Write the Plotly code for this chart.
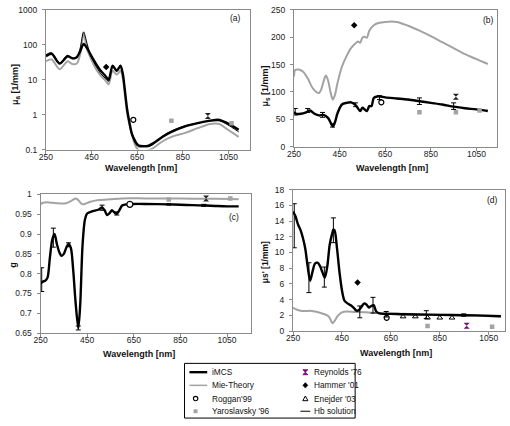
import plotly.graph_objects as go

W, H = 510, 426

# ---------------- data ----------------
# Panel (a): absorption coefficient mu_a [1/mm]
wl_a = [250, 275, 310, 345, 365, 385, 400, 415, 430, 445, 470, 490, 510, 525, 542, 560, 577, 587, 596, 606,
        616, 627, 642, 656, 680, 700, 720, 760, 800, 860, 915, 970, 1010, 1045, 1095]
mua_imcs = [47, 55, 29, 47, 41, 44, 65, 105, 81, 53, 28, 18, 13, 10, 25, 18, 25, 14.7, 5, 1.4,
            0.6, 0.28, 0.17, 0.13, 0.125, 0.13, 0.15, 0.23, 0.32, 0.46, 0.57, 0.67, 0.71, 0.57, 0.37]
mua_mie = [34, 38, 20, 34, 28, 29, 53, 210, 75, 43, 20, 13, 9.6, 7.4, 18, 14, 18, 11, 3.7, 1.1,
           0.5, 0.26, 0.13, 0.095, 0.09, 0.095, 0.11, 0.17, 0.23, 0.3, 0.41, 0.54, 0.54, 0.38, 0.23]
mua_hb = [52, 60, 30, 50, 40, 42, 80, 235, 110, 50, 24, 15, 11, 9, 26, 17, 26, 14, 4.5, 1.3,
          0.55, 0.26, 0.15, 0.12, 0.12, 0.12, 0.14, 0.24, 0.34, 0.48, 0.57, 0.66, 0.66, 0.52, 0.32]

# Panel (b): scattering coefficient mu_s [1/mm]
wl_b = [250, 260, 280, 300, 320, 340, 360, 380, 400, 420, 430, 440, 460, 480, 500, 520, 540, 550, 560, 570,
        580, 590, 600, 620, 650, 700, 750, 800, 850, 900, 950, 1000, 1050, 1100]
mus_imcs = [63, 60, 60, 62, 66, 60, 57, 58, 52, 37, 45, 60, 77, 80, 81, 76, 65, 71, 68, 65,
            74, 74, 89, 92, 90, 88, 86, 83, 80, 77, 73, 70, 68, 65]
wl_b_mie = [250, 255, 270, 290, 310, 330, 350, 360, 370, 380, 390, 400, 410, 420, 430, 440, 460, 480, 500, 520,
            530, 540, 550, 560, 570, 580, 600, 620, 650, 700, 750, 800, 850, 900, 950, 1000, 1050, 1100]
mus_mie = [128, 140, 141, 137, 125, 108, 99, 98, 105, 120, 130, 120, 100, 86, 95, 115, 146, 165, 180, 189,
           192, 190, 199, 201, 199, 212, 222, 226, 228, 228, 221, 212, 202, 191, 180, 169, 160, 151]

# Panel (c): anisotropy g
wl_c = [250, 260, 270, 280, 290, 300, 310, 320, 330, 340, 350, 360, 370, 380, 390, 400, 412, 420, 430, 440,
        450, 470, 500, 514, 525, 535, 545, 556, 566, 577, 590, 600, 620, 650, 700, 800, 850, 900, 960, 1000,
        1050, 1100]
g_imcs = [0.775, 0.78, 0.782, 0.79, 0.84, 0.885, 0.9, 0.875, 0.855, 0.845, 0.85, 0.865, 0.875, 0.865, 0.81, 0.73,
          0.662, 0.72, 0.87, 0.935, 0.952, 0.957, 0.962, 0.967, 0.96, 0.948, 0.952, 0.96, 0.955, 0.951, 0.962,
          0.972, 0.975, 0.976, 0.976, 0.975, 0.974, 0.973, 0.972, 0.971, 0.97, 0.97]
wl_c_mie = [250, 260, 280, 300, 320, 340, 360, 380, 390, 400, 410, 420, 430, 440, 460, 500, 550, 600, 700, 800,
            900, 1000, 1100]
g_mie = [0.975, 0.979, 0.98, 0.979, 0.978, 0.977, 0.978, 0.983, 0.987, 0.99, 0.987, 0.98, 0.975, 0.976, 0.981,
         0.986, 0.988, 0.99, 0.99, 0.99, 0.989, 0.989, 0.988]

# Panel (d): reduced scattering coefficient mu_s' [1/mm]
wl_d = [250, 260, 270, 280, 290, 300, 310, 320, 330, 340, 350, 360, 370, 380, 390, 400, 410, 415, 420, 430,
        440, 450, 460, 470, 480, 490, 500, 510, 520, 530, 540, 550, 560, 570, 580, 590, 600, 620, 650, 700,
        800, 900, 1000, 1100]
musp_imcs = [15.2, 14.6, 13.6, 12.9, 11.9, 10.5, 8.2, 6.4, 7.6, 8.6, 8.7, 8.3, 7.5, 6.8, 8.2, 11, 12.4, 12.9, 12.8, 10.5,
             7.5, 5.2, 3.9, 3.6, 3.4, 3.2, 2.9, 2.6, 2.7, 3.1, 3.5, 3.4, 3.0, 3.2, 3.3, 2.5, 2.3, 2.2, 2.2, 2.15,
             2.1, 2.05, 2.0, 1.9]
wl_d_mie = [250, 260, 280, 300, 320, 340, 360, 380, 395, 403, 411, 420, 432, 450, 470, 500, 550, 600, 700, 800,
            900, 1000, 1100]
musp_mie = [3.0, 2.8, 2.6, 2.55, 2.6, 2.5, 2.35, 2.15, 1.9, 1.5, 1.0, 1.3, 1.9, 2.4, 2.5, 2.45, 2.4, 2.3, 2.2, 2.1,
            2.05, 1.95, 1.85]

# Error bars of iMCS (wavelength, lower, centre, upper)
err_b_wl = [255, 310, 375, 419, 520, 625, 800, 950]
err_b_lo = [57.7, 62.5, 53.6, 35.7, 73, 86, 77, 68]
err_b_mid = [63, 66, 58, 38, 76, 90, 83, 74]
err_b_hi = [69.6, 69.6, 62.5, 41.7, 80, 93, 89, 80]

err_c_wl = [255, 305, 370, 412, 514, 577, 800, 950]
err_c_lo = [0.755, 0.867, 0.868, 0.658, 0.96, 0.948, 0.973, 0.97]
err_c_mid = [0.778, 0.89, 0.875, 0.662, 0.967, 0.951, 0.975, 0.972]
err_c_hi = [0.815, 0.915, 0.878, 0.668, 0.973, 0.956, 0.977, 0.975]

err_d_wl = [255, 315, 378, 415, 523, 577, 631, 795, 948]
err_d_lo = [10.6, 4.9, 5.6, 11.25, 1.7, 2.3, 1.8, 1.6, 1.9]
err_d_mid = [14.9, 7.0, 6.8, 12.9, 2.6, 3.3, 2.2, 2.1, 2.05]
err_d_hi = [16.2, 8.7, 8.15, 14.4, 3.2, 4.3, 2.5, 2.6, 2.2]

# Literature values
roggan_wl = [633]
roggan_a, roggan_b, roggan_c, roggan_d = [0.71], [81], [0.975], [1.7]
hammer_wl = [514]
hammer_a, hammer_b, hammer_d = [23], [222], [6.2]
reynolds_wl = [960]
reynolds_a, reynolds_b, reynolds_c, reynolds_d = [0.92], [91], [0.99], [0.7]
yaro_wl_a, yaro_a = [800, 1064], [0.67, 0.57]
yaro_wl_b, yaro_b = [800, 960, 1064], [63, 63, 66]
yaro_wl_c, yaro_c = [800, 1064], [0.987, 0.99]
yaro_wl_d, yaro_d = [800, 1064], [0.65, 0.55]
enejder_wl = [700, 750, 800, 850, 900]
enejder_d = [1.85, 1.85, 1.7, 1.7, 1.7]

x_ticks = [250, 450, 650, 850, 1050]
ya_ticks = [0.1, 1, 10, 100, 1000]
yb_ticks = [0, 50, 100, 150, 200, 250]
yc_ticks = [0.65, 0.7, 0.75, 0.8, 0.85, 0.9, 0.95, 1]
yd_ticks = [0, 2, 4, 6, 8, 10, 12, 14, 16, 18]

legend_col1 = ["iMCS", "Mie-Theory", "Roggan'99", "Yaroslavsky '96"]
legend_col2 = ["Reynolds '76", "Hammer '01", "Enejder '03", "Hb solution"]

# ---------------- styling ----------------
FONT = "Liberation Sans, Arial, sans-serif"
BLACK = "#000000"
GRAY = "#a3a3a3"
PURPLE = "#7a0a7a"


def fx(p):
    return p / W


def fy(p):
    return 1 - p / H


fig = go.Figure()


def line(x, y, xa, ya, color, width):
    fig.add_trace(go.Scatter(x=x, y=y, mode="lines", line=dict(color=color, width=width, shape="spline", smoothing=0.8),
                             xaxis=xa, yaxis=ya, showlegend=False, hoverinfo="skip"))


def errs(wl, lo, mid, hi, xa, ya):
    fig.add_trace(go.Scatter(
        x=wl, y=mid, mode="markers", marker=dict(size=1, color="rgba(0,0,0,0)"),
        error_y=dict(type="data", symmetric=False,
                     array=[h - m for h, m in zip(hi, mid)],
                     arrayminus=[m - l for m, l in zip(mid, lo)],
                     color=BLACK, thickness=1, width=2.5),
        xaxis=xa, yaxis=ya, showlegend=False, hoverinfo="skip"))


def marks(x, y, xa, ya, symbol, color, size, lw=1, lcolor=None):
    fig.add_trace(go.Scatter(x=x, y=y, mode="markers",
                             marker=dict(symbol=symbol, color=color, size=size,
                                         line=dict(width=lw, color=lcolor or color)),
                             xaxis=xa, yaxis=ya, showlegend=False, hoverinfo="skip"))


# (a)
line(wl_a, mua_mie, "x", "y", GRAY, 2)
line(wl_a, mua_imcs, "x", "y", BLACK, 2.4)
line(wl_a, mua_hb, "x", "y", BLACK, 1)
marks(hammer_wl, hammer_a, "x", "y", "diamond", BLACK, 5, 0)
marks(roggan_wl, roggan_a, "x", "y", "circle-open", BLACK, 5, 1.2)
marks(yaro_wl_a, yaro_a, "x", "y", "square", GRAY, 4.5, 0)
marks(reynolds_wl, reynolds_a, "x", "y", "hourglass", "#222222", 6, 0)

# (b)
line(wl_b_mie, mus_mie, "x2", "y2", GRAY, 2)
line(wl_b, mus_imcs, "x2", "y2", BLACK, 2.4)
errs(err_b_wl, err_b_lo, err_b_mid, err_b_hi, "x2", "y2")
marks(hammer_wl, hammer_b, "x2", "y2", "diamond", BLACK, 5, 0)
marks(roggan_wl, roggan_b, "x2", "y2", "circle-open", BLACK, 5, 1.2)
marks(yaro_wl_b, yaro_b, "x2", "y2", "square", GRAY, 4.5, 0)
marks(reynolds_wl, reynolds_b, "x2", "y2", "hourglass", "#222222", 6, 0)

# (c)
line(wl_c_mie, g_mie, "x3", "y3", GRAY, 2)
line(wl_c, g_imcs, "x3", "y3", BLACK, 2.4)
errs(err_c_wl, err_c_lo, err_c_mid, err_c_hi, "x3", "y3")
marks(roggan_wl, roggan_c, "x3", "y3", "circle", "white", 6, 1.2, BLACK)
marks(yaro_wl_c, yaro_c, "x3", "y3", "square", GRAY, 4.5, 0)
marks(reynolds_wl, reynolds_c, "x3", "y3", "hourglass", "#222222", 6, 0)

# (d)
line(wl_d_mie, musp_mie, "x4", "y4", GRAY, 2)
line(wl_d, musp_imcs, "x4", "y4", BLACK, 2.4)
errs(err_d_wl, err_d_lo, err_d_mid, err_d_hi, "x4", "y4")
marks(hammer_wl, hammer_d, "x4", "y4", "diamond", BLACK, 5, 0)
marks(roggan_wl, roggan_d, "x4", "y4", "circle-open", BLACK, 5, 1.2)
marks(enejder_wl, enejder_d, "x4", "y4", "triangle-up-open", BLACK, 5, 1)
marks(yaro_wl_d, yaro_d, "x4", "y4", "square", GRAY, 4.5, 0)
marks(reynolds_wl, reynolds_d, "x4", "y4", "hourglass", PURPLE, 6, 0)

axis_common = dict(showline=True, linecolor="#8a8a8a", linewidth=1, mirror=True, ticks="outside", ticklen=3,
                   tickcolor="#8a8a8a", showgrid=False, zeroline=False,
                   tickfont=dict(family=FONT, size=8.5, color="#222222"))

panels = [
    ("xaxis", "yaxis", "y", "x", (39.5, 246), (5, 148), [250, 1143], ya_ticks, [-1, 3], True),
    ("xaxis2", "yaxis2", "y2", "x2", (291, 497), (5, 145), [250, 1141], yb_ticks, [0, 250], False),
    ("xaxis3", "yaxis3", "y3", "x3", (34, 247), (194, 336), [250, 1151], yc_ticks, [0.65, 1], False),
    ("xaxis4", "yaxis4", "y4", "x4", (290, 505), (189, 334), [250, 1117], yd_ticks, [0, 18], False),
]

layout = dict(width=W, height=H, margin=dict(l=0, r=0, t=0, b=0), paper_bgcolor="white",
              plot_bgcolor="white", showlegend=False)
for xk, yk, yanch, xanch, xd, yd, xr, yt, yr, lg in panels:
    layout[xk] = dict(axis_common, domain=[fx(xd[0]), fx(xd[1])], anchor=yanch, range=xr,
                      tickvals=x_ticks, ticktext=[str(v) for v in x_ticks], ticklabelstandoff=-4)
    layout[yk] = dict(axis_common, domain=[fy(yd[1]), fy(yd[0])], anchor=xanch, range=yr,
                      type="log" if lg else "linear", tickvals=yt,
                      ticktext=[("%g" % v) for v in yt], ticklabelstandoff=3)
fig.update_layout(**layout)

ann = []


def text(x, y, s, size=8.5, angle=0, xanchor="center", bold=False, color="#111111"):
    ann.append(dict(x=fx(x), y=fy(y), xref="paper", yref="paper", text=("<b>%s</b>" % s) if bold else s,
                    showarrow=False, textangle=angle, xanchor=xanchor, yanchor="middle",
                    font=dict(family=FONT, size=size, color=color)))


# axis titles
text(136, 167, "Wavelength [nm]", 9, bold=True)
text(390, 167, "Wavelength [nm]", 9, bold=True)
text(134, 357, "Wavelength [nm]", 9, bold=True)
text(394, 356, "Wavelength [nm]", 9, bold=True)
text(8, 81, "μ<sub>a</sub> [1/mm]", 9, angle=-90, bold=True)
text(262, 83, "μ<sub>s</sub> [1/mm]", 9, angle=-90, bold=True)
text(6, 266, "g", 9, angle=-90, bold=True)
text(261, 263, "μs' [1/mm]", 8.5, angle=-90, bold=True)
# panel letters
text(232, 13, "(a)")
text(488, 15, "(b)")
text(230, 217, "(c)")
text(492, 200, "(d)")

# legend (manual two-column box)
rows = [376, 389.5, 403, 416]
for i, s in enumerate(legend_col1):
    text(206, rows[i], s, 8.3, xanchor="left")
for i, s in enumerate(legend_col2):
    text(309, rows[i], s, 8.3, xanchor="left")

shapes = []


def pline(x0, y0, x1, y1, color, width):
    shapes.append(dict(type="line", xref="paper", yref="paper", x0=fx(x0), y0=fy(y0), x1=fx(x1), y1=fy(y1),
                       line=dict(color=color, width=width)))


def ppath(pts, fill, lcolor, lw=1):
    d = "M " + " L ".join("%f,%f" % (fx(a), fy(b)) for a, b in pts) + " Z"
    shapes.append(dict(type="path", xref="paper", yref="paper", path=d, fillcolor=fill,
                       line=dict(color=lcolor, width=lw)))


shapes.append(dict(type="rect", xref="paper", yref="paper", x0=fx(180), x1=fx(353), y0=fy(423), y1=fy(367),
                   line=dict(color="#000000", width=1), fillcolor="rgba(0,0,0,0)"))
pline(185, rows[0], 203, rows[0], BLACK, 2.4)
pline(185, rows[1], 203, rows[1], GRAY, 1.5)
shapes.append(dict(type="circle", xref="paper", yref="paper", x0=fx(189), x1=fx(193.5), y0=fy(rows[2] + 2.2),
                   y1=fy(rows[2] - 2.2), line=dict(color=BLACK, width=1.1), fillcolor="white"))
shapes.append(dict(type="rect", xref="paper", yref="paper", x0=fx(189.2), x1=fx(193.2), y0=fy(rows[3] + 2),
                   y1=fy(rows[3] - 2), line=dict(width=0), fillcolor=GRAY))
cx = 302.5
r = rows[0]
ppath([(cx - 2.6, r - 2.6), (cx + 2.6, r - 2.6), (cx - 2.6, r + 2.6), (cx + 2.6, r + 2.6)], PURPLE, PURPLE, 0.8)
r = rows[1]
ppath([(cx, r - 2.8), (cx + 2.6, r), (cx, r + 2.8), (cx - 2.6, r)], BLACK, BLACK, 0.5)
r = rows[2]
ppath([(cx, r - 2.6), (cx + 2.6, r + 2.2), (cx - 2.6, r + 2.2)], "white", BLACK, 1)
pline(297.5, rows[3], 307.5, rows[3], BLACK, 1)

fig.update_layout(annotations=ann, shapes=shapes)
fig.write_html("out.html", config={"displayModeBar": False},
               post_script="document.body.style.margin='0px';document.body.style.overflow='hidden';")
